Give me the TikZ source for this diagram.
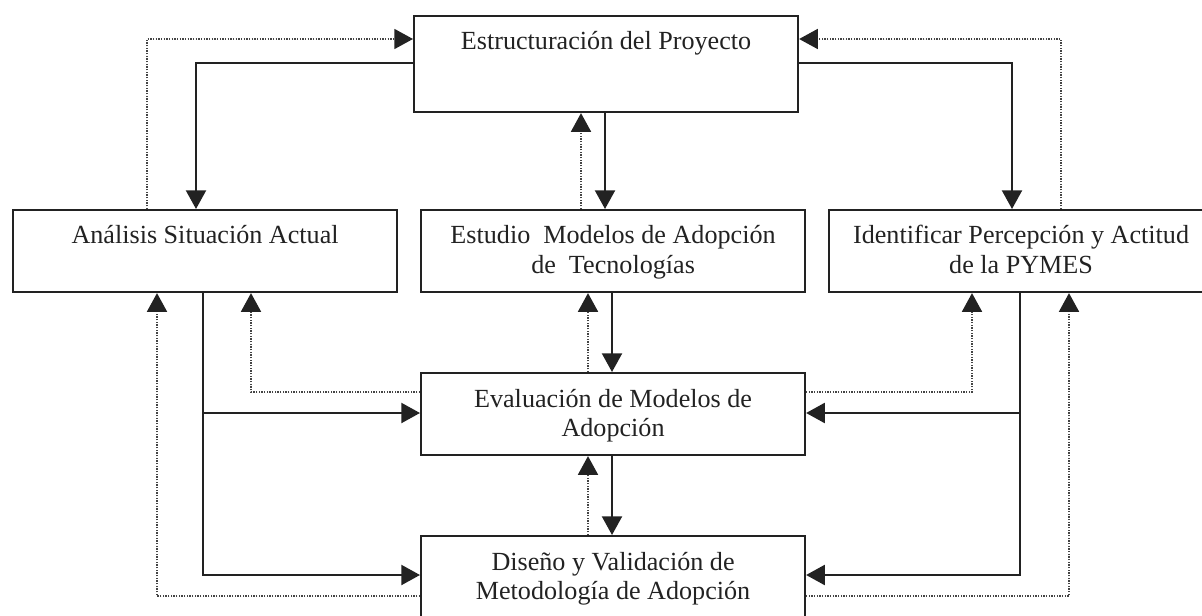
\documentclass[tikz,border=0pt]{standalone}
\usepackage{fontspec}
\setmainfont{Liberation Serif}
\usetikzlibrary{arrows.meta}
\definecolor{ink}{HTML}{222222}
\definecolor{dotc}{HTML}{444444}
\tikzset{
  boxn/.style={draw=ink, line width=1.6pt, rectangle, inner sep=0pt, anchor=north west,
               minimum width=288pt, minimum height=61.5pt},
  lbl/.style={text=ink, font=\fontsize{19.6pt}{22pt}\selectfont, align=center, inner sep=0pt, anchor=base},
  sol/.style={draw=ink, line width=1.6pt, line join=miter},
  dot/.style={draw=dotc, line width=1.2pt, dash pattern=on 1pt off 1pt},
  arr/.style={-{Triangle[length=14pt,width=15pt,color=ink]}}
}
\begin{document}
\begin{tikzpicture}[x=0.75pt,y=-0.75pt]
\useasboundingbox (0,0) rectangle (1202,616);
\clip (0,0) rectangle (1202,616);
% boxes
\node[boxn, minimum height=72pt] (P) at (413,15) {};
\node[boxn] (A) at (12,209) {};
\node[boxn] (E) at (420,209) {};
\node[boxn] (I) at (828,209) {};
\node[boxn] (V) at (420,372) {};
\node[boxn] (D) at (420,535) {};
% labels (anchor base = baseline of the last line)
\node[lbl] (Pt) at ([yshift=-26.25pt]P.north) {Estructuración del Proyecto};
\node[lbl] (At) at ([yshift=-26.25pt]A.north) {Análisis Situación Actual};
\node[lbl] (Et) at ([yshift=-48.25pt]E.north) {Estudio\ \ Modelos de Adopción\\de\ \ Tecnologías};
\node[lbl] (It) at ([yshift=-48.25pt]I.north) {Identificar Percepción y Actitud\\de la PYMES};
\node[lbl] (Vt) at ([yshift=-48.25pt]V.north) {Evaluación de Modelos de\\Adopción};
\node[lbl] (Dt) at ([yshift=-48.25pt]D.north) {Diseño y Validación de\\Metodología de Adopción};
% bend coordinates
\coordinate (c1) at (147,39);
\coordinate (c2) at (196,63);
\coordinate (c3) at (1061,39);
\coordinate (c4) at (1012,63);
\coordinate (c5) at (581,0);
\coordinate (c6) at (605,0);
\coordinate (c7) at (588,0);
\coordinate (c8) at (612,0);
\coordinate (c9) at (203,413);
\coordinate (c10) at (203,575);
\coordinate (c11) at (251,392);
\coordinate (c12) at (157,596);
\coordinate (c13) at (1020,413);
\coordinate (c14) at (1020,575);
\coordinate (c15) at (972,392);
\coordinate (c16) at (1069,596);
% top connections
\draw[dot,arr] (A.north -| c1) |- (P.west |- c1);
\draw[sol,arr] (P.west |- c2) -| (A.north -| c2);
\draw[dot,arr] (I.north -| c3) |- (P.east |- c3);
\draw[sol,arr] (P.east |- c4) -| (I.north -| c4);
% centre column
\draw[dot,arr] (E.north -| c5) -- (P.south -| c5);
\draw[sol,arr] (P.south -| c6) -- (E.north -| c6);
\draw[dot,arr] (V.north -| c7) -- (E.south -| c7);
\draw[sol,arr] (E.south -| c8) -- (V.north -| c8);
\draw[dot,arr] (D.north -| c7) -- (V.south -| c7);
\draw[sol,arr] (V.south -| c8) -- (D.north -| c8);
% left side
\draw[sol,arr] (A.south -| c9) |- (D.west |- c10);
\draw[sol,arr] (c9) -- (V.west |- c9);
\draw[dot,arr] (V.west |- c11) -| (A.south -| c11);
\draw[dot,arr] (D.west |- c12) -| (A.south -| c12);
% right side
\draw[sol,arr] (I.south -| c13) |- (D.east |- c14);
\draw[sol,arr] (c13) -- (V.east |- c13);
\draw[dot,arr] (V.east |- c15) -| (I.south -| c15);
\draw[dot,arr] (D.east |- c16) -| (I.south -| c16);
\end{tikzpicture}
\end{document}
